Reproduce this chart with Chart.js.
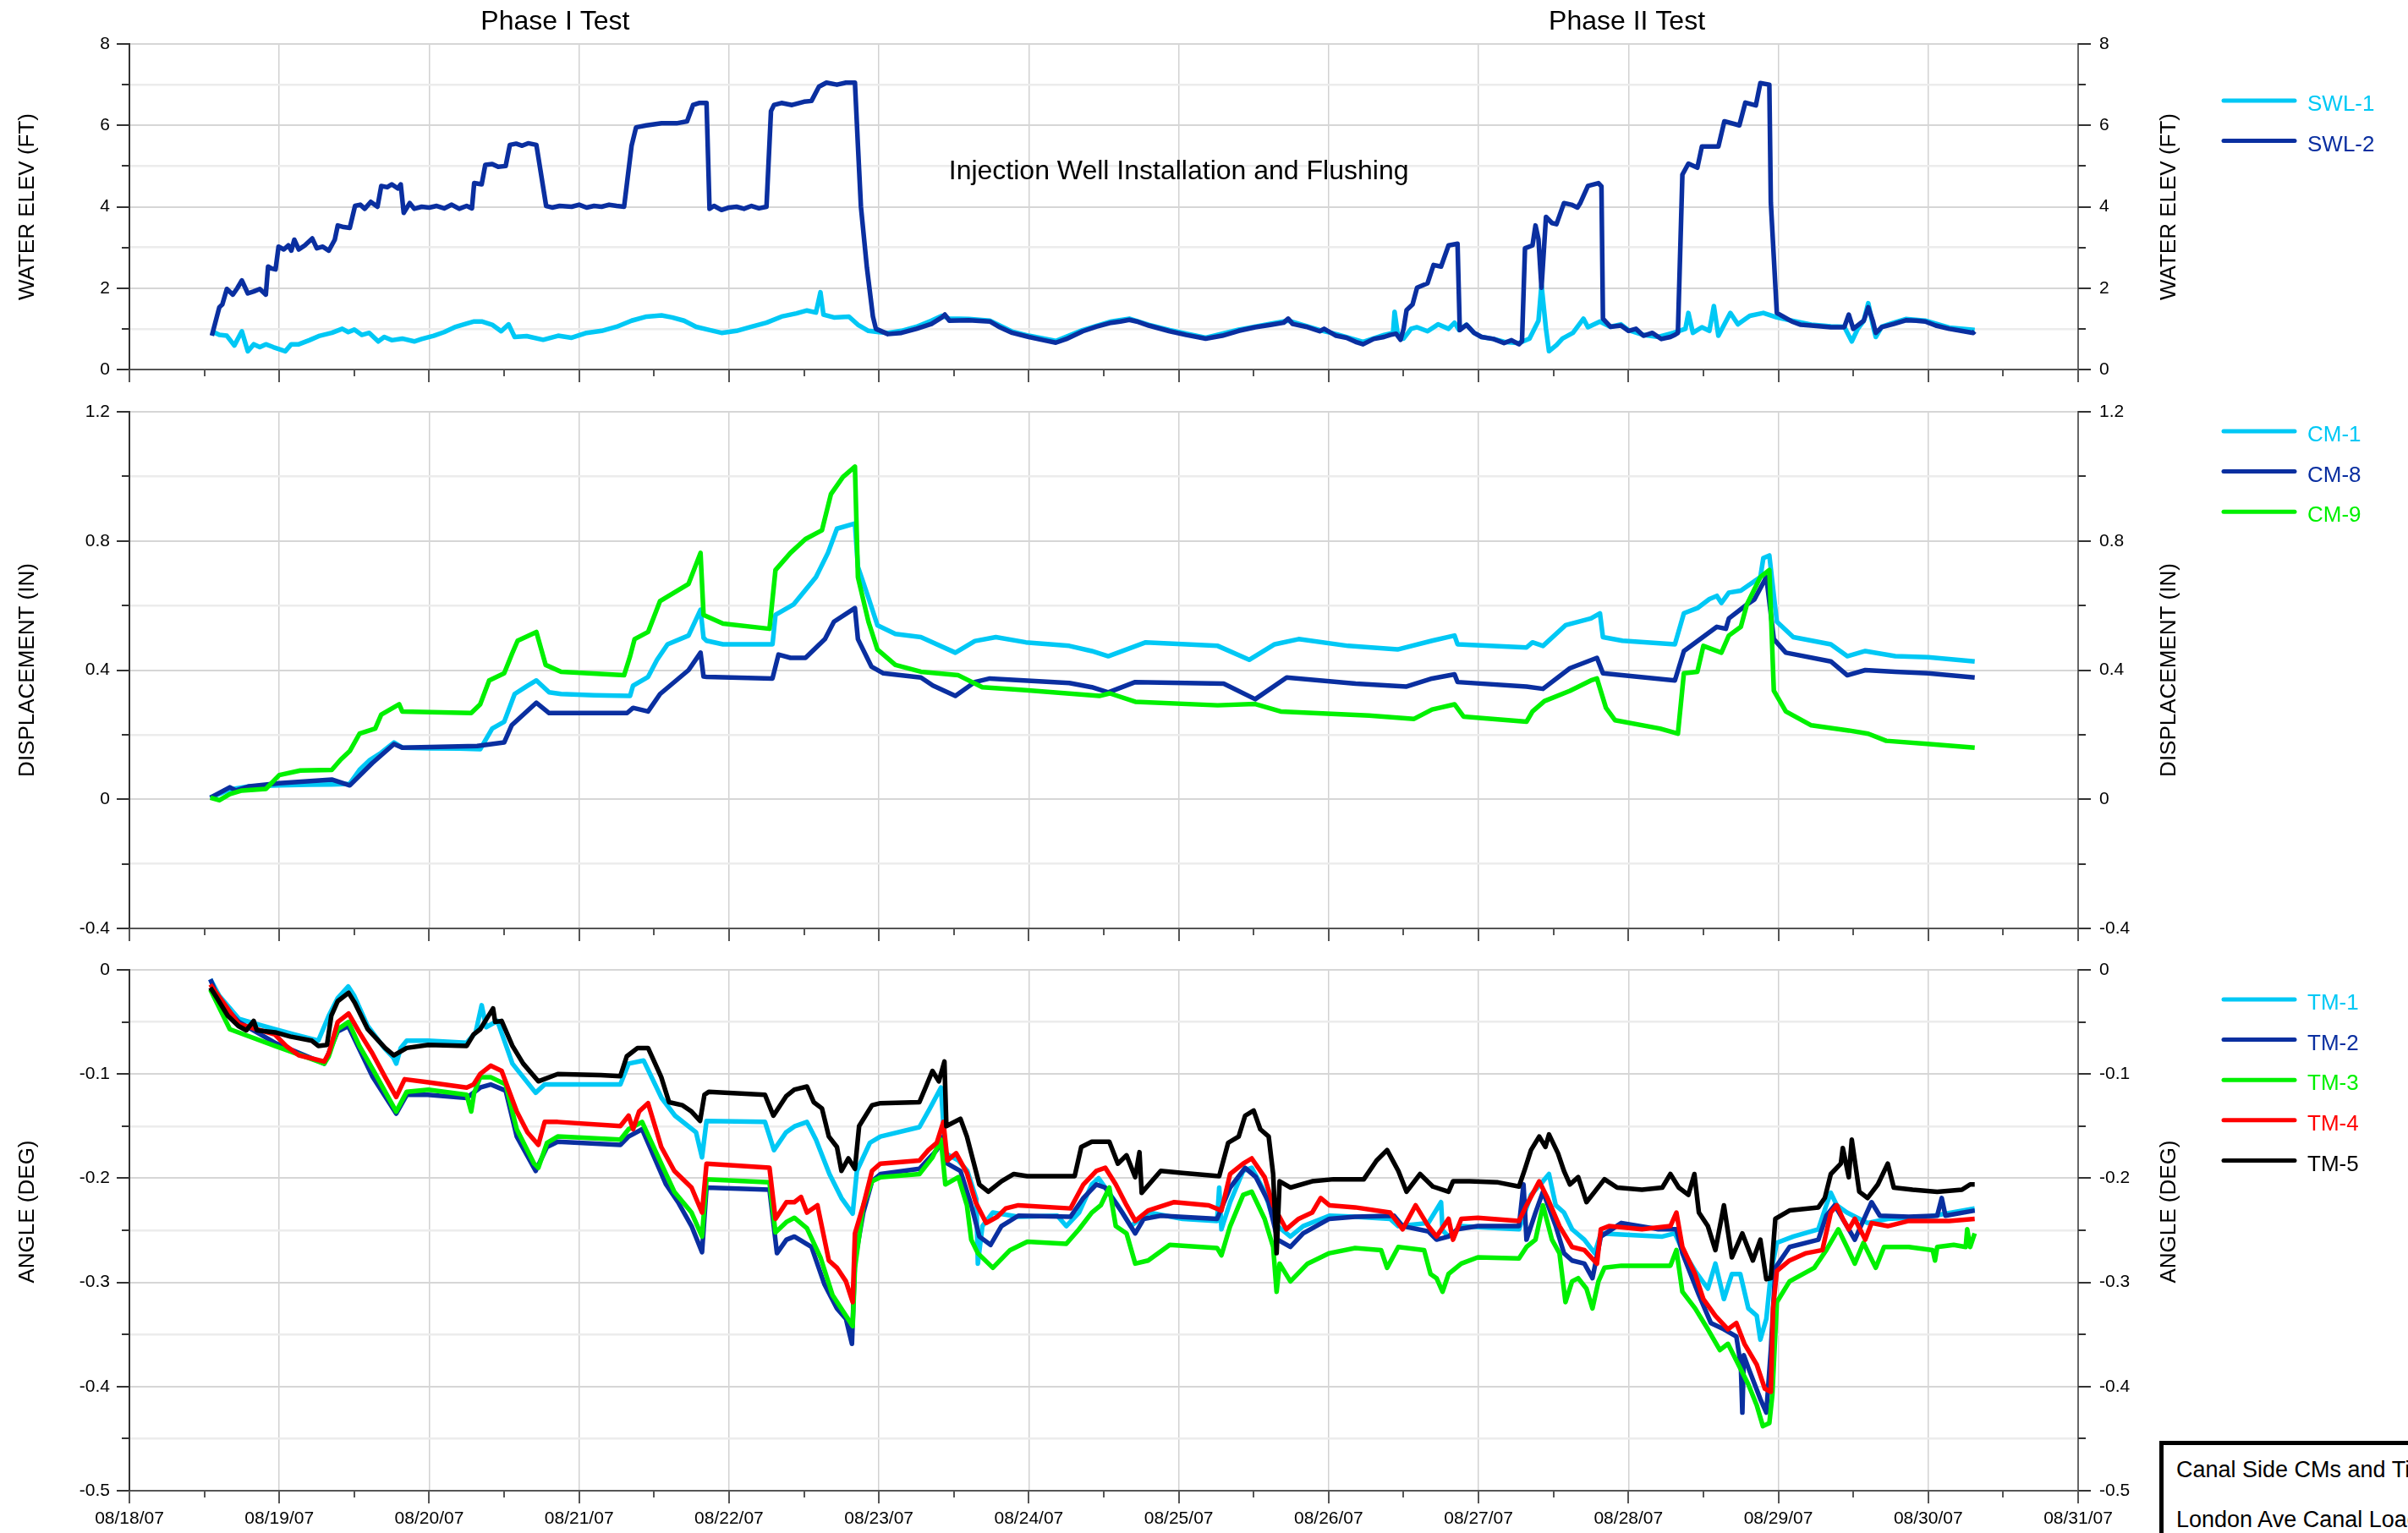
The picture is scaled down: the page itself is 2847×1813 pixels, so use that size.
<!DOCTYPE html>
<html>
<head>
<meta charset="utf-8">
<title>London Ave Canal Load Test</title>
<script src="https://cdn.jsdelivr.net/npm/chart.js@4.4.1/dist/chart.umd.min.js"></script>
<style>
  body { margin: 0; width: 2847px; height: 1813px; overflow: hidden; background: #fff;
         font-family: "Liberation Sans", Arial, sans-serif; position: relative; }
  canvas { position: absolute; left: 0; }
  #noteBox { position: absolute; left: 2553px; top: 1704px; width: 600px; height: 300px;
             border: 5px solid #000; box-sizing: border-box; padding-left: 15px;
             font-size: 27px; line-height: 59px; white-space: nowrap; background: #fff; }
</style>
</head>
<body>
<canvas id="waterChart" width="2847" height="462" style="top:0"></canvas>
<canvas id="dispChart" width="2847" height="660" style="top:462px"></canvas>
<canvas id="angleChart" width="2847" height="691" style="top:1122px"></canvas>
<div id="noteBox"><div>Canal Side CMs and Tiltmeters</div><div>London Ave Canal Load Test</div></div>
<script>
// time axis: days counted from 08/18/07
const dateLabels = ['08/18/07', '08/19/07', '08/20/07', '08/21/07', '08/22/07', '08/23/07', '08/24/07',
  '08/25/07', '08/26/07', '08/27/07', '08/28/07', '08/29/07', '08/30/07', '08/31/07'];

// water elevation (ft), [day, value]
const swl1 = [[0.55,0.94],[0.60,0.85],[0.65,0.83],[0.70,0.59],[0.75,0.94],[0.79,0.45],[0.83,0.62],[0.87,0.55],
  [0.91,0.62],[0.96,0.55],[1.04,0.45],[1.08,0.62],[1.13,0.62],[1.20,0.72],[1.27,0.83],[1.35,0.90],[1.42,1.00],
  [1.46,0.92],[1.50,0.98],[1.55,0.85],[1.60,0.90],[1.66,0.69],[1.70,0.80],[1.75,0.72],[1.82,0.76],[1.90,0.69],
  [1.95,0.75],[2.03,0.83],[2.10,0.92],[2.17,1.04],[2.26,1.14],[2.30,1.18],[2.35,1.18],[2.42,1.10],[2.48,0.94],
  [2.53,1.11],[2.57,0.80],[2.65,0.82],[2.76,0.73],[2.86,0.83],[2.95,0.78],[3.05,0.90],[3.15,0.95],[3.25,1.05],
  [3.35,1.20],[3.45,1.30],[3.55,1.33],[3.62,1.28],[3.70,1.20],[3.78,1.05],[3.86,0.98],[3.95,0.90],[4.05,0.95],
  [4.15,1.05],[4.25,1.15],[4.35,1.30],[4.45,1.38],[4.52,1.45],[4.58,1.40],[4.61,1.90],[4.63,1.35],[4.70,1.28],
  [4.80,1.30],[4.86,1.10],[4.93,0.95],[5.00,0.92],[5.06,0.90],[5.15,0.95],[5.25,1.05],[5.35,1.20],[5.42,1.32],
  [5.47,1.25],[5.60,1.24],[5.74,1.20],[5.89,0.93],[6.00,0.83],[6.18,0.70],[6.36,0.97],[6.55,1.18],[6.67,1.25],
  [6.80,1.10],[6.94,0.97],[7.18,0.78],[7.40,0.98],[7.62,1.13],[7.73,1.20],[7.94,0.97],[8.05,0.87],[8.23,0.68],
  [8.37,0.85],[8.43,0.90],[8.44,1.42],[8.46,0.90],[8.50,0.76],[8.55,1.00],[8.59,1.04],[8.66,0.94],[8.73,1.11],
  [8.80,1.00],[8.84,1.15],[8.87,0.97],[8.92,1.10],[8.97,0.90],[9.02,0.80],[9.10,0.75],[9.17,0.68],[9.27,0.65],
  [9.34,0.76],[9.40,1.20],[9.42,2.08],[9.45,1.00],[9.47,0.45],[9.52,0.60],[9.56,0.76],[9.63,0.90],[9.70,1.25],
  [9.73,1.04],[9.81,1.18],[9.88,1.05],[9.95,1.11],[10.00,0.97],[10.10,0.85],[10.20,0.80],[10.30,0.90],
  [10.38,1.00],[10.40,1.39],[10.43,0.90],[10.49,1.04],[10.54,0.95],[10.57,1.56],[10.60,0.83],[10.68,1.39],
  [10.73,1.11],[10.81,1.32],[10.90,1.39],[10.99,1.28],[11.09,1.20],[11.22,1.10],[11.35,1.06],[11.44,1.05],
  [11.49,0.69],[11.53,1.00],[11.57,1.20],[11.60,1.63],[11.63,1.10],[11.65,0.80],[11.69,1.05],[11.77,1.15],
  [11.85,1.24],[11.98,1.20],[12.14,1.03],[12.31,0.97]];
const swl2 = [[0.55,0.83],[0.60,1.53],[0.62,1.60],[0.65,1.98],[0.69,1.84],[0.72,2.00],[0.75,2.19],[0.79,1.87],
  [0.83,1.92],[0.87,1.98],[0.91,1.84],[0.925,2.53],[0.95,2.48],[0.975,2.46],[0.995,3.02],[1.03,2.95],[1.06,3.05],
  [1.08,2.92],[1.10,3.19],[1.13,2.95],[1.17,3.05],[1.22,3.22],[1.25,2.98],[1.29,3.02],[1.33,2.92],[1.37,3.19],
  [1.39,3.54],[1.43,3.50],[1.47,3.48],[1.505,4.02],[1.54,4.05],[1.57,3.95],[1.61,4.12],[1.655,4.00],[1.68,4.51],
  [1.72,4.48],[1.75,4.55],[1.79,4.45],[1.81,4.55],[1.83,3.85],[1.87,4.09],[1.90,3.95],[1.95,4.00],[2.00,3.98],
  [2.05,4.02],[2.10,3.96],[2.15,4.05],[2.20,3.95],[2.25,4.02],[2.285,3.96],[2.30,4.58],[2.35,4.55],[2.374,5.03],
  [2.42,5.05],[2.46,4.98],[2.51,5.00],[2.538,5.52],[2.58,5.55],[2.62,5.50],[2.66,5.56],[2.715,5.52],[2.78,4.02],
  [2.82,3.98],[2.87,4.02],[2.95,4.00],[3.00,4.05],[3.05,3.98],[3.10,4.02],[3.15,4.00],[3.20,4.05],[3.25,4.02],
  [3.30,4.00],[3.32,4.60],[3.35,5.50],[3.38,5.95],[3.45,6.00],[3.55,6.05],[3.65,6.05],[3.72,6.10],[3.76,6.50],
  [3.80,6.55],[3.85,6.55],[3.87,3.95],[3.90,4.02],[3.95,3.92],[4.00,3.98],[4.05,4.00],[4.10,3.95],[4.15,4.02],
  [4.20,3.96],[4.25,4.00],[4.28,6.35],[4.30,6.50],[4.35,6.55],[4.42,6.50],[4.50,6.58],[4.55,6.60],[4.60,6.95],
  [4.65,7.05],[4.72,7.00],[4.78,7.05],[4.84,7.05],[4.86,5.50],[4.88,4.00],[4.92,2.50],[4.96,1.30],[4.98,1.00],
  [5.06,0.87],[5.15,0.90],[5.25,1.00],[5.35,1.12],[5.42,1.28],[5.44,1.35],[5.47,1.20],[5.60,1.21],[5.74,1.18],
  [5.80,1.05],[5.89,0.90],[6.00,0.80],[6.10,0.72],[6.18,0.66],[6.25,0.75],[6.36,0.94],[6.45,1.05],[6.55,1.15],
  [6.61,1.18],[6.67,1.22],[6.72,1.18],[6.80,1.08],[6.94,0.94],[7.05,0.85],[7.18,0.76],[7.29,0.83],[7.40,0.95],
  [7.51,1.04],[7.62,1.10],[7.70,1.15],[7.73,1.25],[7.76,1.12],[7.85,1.05],[7.94,0.94],[7.97,1.00],[8.05,0.83],
  [8.12,0.78],[8.18,0.68],[8.23,0.62],[8.30,0.75],[8.37,0.80],[8.41,0.85],[8.45,0.88],[8.48,0.73],[8.50,1.00],
  [8.52,1.46],[8.56,1.60],[8.59,2.01],[8.66,2.12],[8.70,2.57],[8.75,2.53],[8.80,3.05],[8.86,3.09],[8.875,0.97],
  [8.92,1.10],[8.97,0.90],[9.02,0.80],[9.10,0.75],[9.17,0.65],[9.22,0.72],[9.27,0.62],[9.29,0.70],[9.31,2.98],
  [9.36,3.05],[9.38,3.54],[9.40,3.20],[9.42,2.01],[9.45,3.75],[9.49,3.60],[9.52,3.57],[9.57,4.09],[9.62,4.05],
  [9.66,3.98],[9.68,4.10],[9.73,4.51],[9.80,4.58],[9.82,4.50],[9.83,1.25],[9.88,1.05],[9.95,1.08],[10.00,0.95],
  [10.05,1.00],[10.10,0.83],[10.16,0.90],[10.22,0.75],[10.28,0.80],[10.31,0.85],[10.33,0.90],[10.36,4.79],
  [10.40,5.06],[10.46,4.96],[10.49,5.48],[10.60,5.48],[10.64,6.10],[10.74,6.00],[10.78,6.56],[10.85,6.49],
  [10.88,7.04],[10.94,7.00],[10.95,4.10],[10.99,1.39],[11.09,1.18],[11.15,1.10],[11.22,1.08],[11.35,1.04],
  [11.44,1.04],[11.47,1.35],[11.50,1.00],[11.57,1.20],[11.60,1.53],[11.63,1.20],[11.65,0.90],[11.69,1.04],
  [11.77,1.12],[11.85,1.21],[11.92,1.20],[11.98,1.18],[12.05,1.08],[12.14,1.00],[12.22,0.95],[12.30,0.90],
  [12.31,0.94]];

// displacement (in), [day, value]
const cm1 = [[0.54,0.005],[0.67,0.03],[0.80,0.04],[1.00,0.043],[1.20,0.045],[1.35,0.046],[1.47,0.048],
  [1.535,0.091],[1.60,0.12],[1.68,0.144],[1.765,0.176],[1.82,0.16],[2.00,0.158],[2.20,0.157],[2.34,0.155],
  [2.42,0.219],[2.50,0.24],[2.57,0.326],[2.65,0.35],[2.715,0.368],[2.80,0.331],[2.88,0.326],[3.10,0.322],
  [3.34,0.32],[3.36,0.352],[3.46,0.379],[3.52,0.432],[3.59,0.48],[3.73,0.507],[3.81,0.587],[3.83,0.50],
  [3.85,0.491],[3.96,0.48],[4.29,0.48],[4.31,0.571],[4.43,0.603],[4.58,0.688],[4.66,0.763],[4.72,0.838],
  [4.84,0.854],[4.86,0.72],[4.93,0.624],[4.99,0.539],[5.11,0.512],[5.28,0.502],[5.51,0.454],[5.64,0.49],
  [5.78,0.502],[5.98,0.486],[6.27,0.475],[6.42,0.459],[6.53,0.443],[6.78,0.486],[7.26,0.475],[7.47,0.432],
  [7.64,0.48],[7.80,0.496],[8.13,0.475],[8.46,0.464],[8.69,0.491],[8.84,0.507],[8.86,0.48],[9.32,0.47],
  [9.36,0.486],[9.43,0.475],[9.58,0.539],[9.75,0.56],[9.81,0.576],[9.83,0.502],[9.96,0.491],[10.31,0.48],
  [10.37,0.576],[10.46,0.592],[10.54,0.62],[10.59,0.63],[10.62,0.608],[10.67,0.64],[10.75,0.646],[10.88,0.688],
  [10.90,0.747],[10.94,0.755],[10.99,0.55],[11.10,0.502],[11.35,0.48],[11.46,0.443],[11.58,0.459],[11.78,0.443],
  [12.00,0.44],[12.31,0.427]];
const cm8 = [[0.54,0.005],[0.67,0.037],[0.71,0.027],[0.80,0.04],[1.00,0.05],[1.35,0.061],[1.47,0.043],
  [1.62,0.112],[1.765,0.171],[1.82,0.16],[2.32,0.165],[2.50,0.176],[2.55,0.229],[2.715,0.299],[2.80,0.267],
  [3.32,0.267],[3.36,0.283],[3.46,0.272],[3.54,0.326],[3.73,0.40],[3.81,0.454],[3.83,0.38],[3.85,0.379],
  [4.29,0.374],[4.33,0.448],[4.41,0.438],[4.51,0.438],[4.64,0.496],[4.70,0.55],[4.84,0.592],[4.86,0.496],
  [4.95,0.411],[5.03,0.39],[5.28,0.377],[5.36,0.352],[5.51,0.32],[5.64,0.363],[5.74,0.374],[6.27,0.36],
  [6.42,0.347],[6.53,0.331],[6.71,0.363],[7.30,0.358],[7.51,0.31],[7.72,0.377],[8.18,0.358],[8.52,0.349],
  [8.69,0.374],[8.84,0.387],[8.86,0.363],[9.32,0.349],[9.43,0.342],[9.61,0.406],[9.79,0.438],[9.83,0.39],
  [10.31,0.368],[10.37,0.459],[10.59,0.534],[10.65,0.528],[10.67,0.56],[10.79,0.603],[10.84,0.619],
  [10.92,0.688],[10.97,0.496],[11.05,0.454],[11.35,0.427],[11.46,0.384],[11.58,0.40],[11.78,0.395],[12.00,0.39],
  [12.31,0.377]];
const cm9 = [[0.54,0.005],[0.60,-0.003],[0.67,0.016],[0.75,0.027],[0.91,0.032],[1.00,0.075],[1.14,0.089],
  [1.35,0.091],[1.41,0.123],[1.47,0.149],[1.535,0.203],[1.64,0.219],[1.68,0.262],[1.80,0.294],[1.82,0.272],
  [2.28,0.267],[2.34,0.294],[2.40,0.368],[2.50,0.39],[2.55,0.448],[2.59,0.491],[2.715,0.518],[2.777,0.416],
  [2.88,0.395],[3.30,0.384],[3.34,0.443],[3.37,0.496],[3.46,0.518],[3.54,0.614],[3.73,0.667],[3.81,0.763],
  [3.83,0.571],[3.96,0.544],[4.27,0.528],[4.31,0.71],[4.41,0.763],[4.51,0.806],[4.62,0.833],[4.68,0.945],
  [4.76,0.998],[4.84,1.03],[4.86,0.688],[4.93,0.55],[4.99,0.464],[5.11,0.416],[5.28,0.395],[5.53,0.384],
  [5.69,0.347],[5.98,0.338],[6.47,0.32],[6.54,0.328],[6.71,0.302],[7.26,0.291],[7.51,0.295],[7.68,0.272],
  [8.27,0.259],[8.57,0.249],[8.69,0.278],[8.84,0.294],[8.90,0.256],[9.32,0.24],[9.36,0.272],[9.44,0.304],
  [9.61,0.336],[9.75,0.368],[9.79,0.374],[9.85,0.283],[9.91,0.245],[10.21,0.219],[10.33,0.203],[10.37,0.39],
  [10.46,0.395],[10.50,0.475],[10.62,0.454],[10.67,0.507],[10.75,0.534],[10.79,0.603],[10.88,0.688],
  [10.94,0.71],[10.97,0.336],[11.05,0.272],[11.22,0.229],[11.47,0.213],[11.60,0.203],[11.72,0.181],
  [12.01,0.171],[12.31,0.16]];

// tilt angle (deg), [day, value]
const tm1 = [[0.54,-0.009],[0.60,-0.025],[0.73,-0.047],[0.85,-0.052],[0.97,-0.057],[1.10,-0.062],[1.26,-0.068],
  [1.33,-0.044],[1.39,-0.027],[1.46,-0.016],[1.50,-0.025],[1.59,-0.054],[1.70,-0.075],[1.76,-0.084],[1.78,-0.09],
  [1.81,-0.075],[1.85,-0.068],[1.99,-0.068],[2.25,-0.07],[2.31,-0.06],[2.35,-0.034],[2.38,-0.055],[2.455,-0.049],
  [2.555,-0.09],[2.71,-0.118],[2.77,-0.11],[3.275,-0.11],[3.33,-0.09],[3.43,-0.087],[3.55,-0.123],[3.64,-0.14],
  [3.78,-0.156],[3.82,-0.18],[3.85,-0.145],[4.24,-0.146],[4.30,-0.173],[4.38,-0.156],[4.44,-0.15],[4.52,-0.146],
  [4.58,-0.163],[4.67,-0.196],[4.75,-0.219],[4.825,-0.234],[4.853,-0.193],[4.94,-0.166],[5.01,-0.16],
  [5.27,-0.151],[5.34,-0.133],[5.414,-0.113],[5.443,-0.176],[5.53,-0.183],[5.59,-0.193],[5.65,-0.22],
  [5.66,-0.282],[5.69,-0.246],[5.76,-0.233],[5.93,-0.237],[6.19,-0.236],[6.25,-0.246],[6.335,-0.233],
  [6.42,-0.206],[6.465,-0.20],[6.51,-0.209],[6.594,-0.226],[6.68,-0.246],[6.80,-0.233],[7.026,-0.239],
  [7.256,-0.241],[7.27,-0.209],[7.285,-0.249],[7.343,-0.223],[7.43,-0.193],[7.487,-0.19],[7.573,-0.213],
  [7.63,-0.239],[7.66,-0.246],[7.745,-0.256],[7.83,-0.246],[8.005,-0.236],[8.177,-0.237],[8.41,-0.239],
  [8.465,-0.246],[8.665,-0.243],[8.75,-0.223],[8.76,-0.25],[8.80,-0.256],[8.885,-0.246],[9.13,-0.248],
  [9.27,-0.249],[9.35,-0.216],[9.43,-0.203],[9.47,-0.196],[9.515,-0.226],[9.57,-0.233],[9.624,-0.249],
  [9.706,-0.259],[9.775,-0.272],[9.816,-0.253],[10.226,-0.256],[10.31,-0.253],[10.36,-0.269],[10.445,-0.289],
  [10.53,-0.306],[10.58,-0.282],[10.637,-0.316],[10.69,-0.292],[10.746,-0.292],[10.80,-0.325],[10.856,-0.332],
  [10.88,-0.355],[10.92,-0.335],[10.95,-0.292],[10.99,-0.262],[11.10,-0.256],[11.267,-0.249],[11.32,-0.226],
  [11.35,-0.214],[11.39,-0.226],[11.458,-0.233],[11.595,-0.243],[11.73,-0.239],[12.00,-0.237],[12.31,-0.229]];
const tm2 = [[0.54,-0.009],[0.60,-0.03],[0.73,-0.05],[0.97,-0.07],[1.30,-0.09],[1.39,-0.059],[1.46,-0.054],
  [1.62,-0.102],[1.78,-0.138],[1.85,-0.12],[1.99,-0.12],[2.25,-0.123],[2.34,-0.113],[2.41,-0.11],[2.51,-0.116],
  [2.584,-0.16],[2.71,-0.193],[2.786,-0.17],[2.857,-0.165],[3.275,-0.168],[3.33,-0.16],[3.42,-0.153],
  [3.58,-0.206],[3.66,-0.223],[3.75,-0.246],[3.82,-0.271],[3.85,-0.209],[4.27,-0.211],[4.32,-0.272],
  [4.383,-0.259],[4.436,-0.256],[4.55,-0.266],[4.637,-0.302],[4.72,-0.325],[4.78,-0.335],[4.82,-0.359],
  [4.84,-0.279],[4.896,-0.233],[4.954,-0.203],[5.01,-0.196],[5.27,-0.191],[5.386,-0.173],[5.43,-0.16],
  [5.457,-0.186],[5.544,-0.193],[5.616,-0.226],[5.67,-0.256],[5.745,-0.264],[5.817,-0.246],[5.93,-0.236],
  [6.278,-0.237],[6.364,-0.219],[6.45,-0.206],[6.51,-0.209],[6.623,-0.233],[6.71,-0.253],[6.767,-0.239],
  [6.88,-0.236],[7.256,-0.239],[7.343,-0.209],[7.443,-0.19],[7.515,-0.199],[7.60,-0.223],[7.66,-0.259],
  [7.745,-0.266],[7.83,-0.253],[8.005,-0.239],[8.177,-0.237],[8.436,-0.236],[8.494,-0.246],[8.665,-0.251],
  [8.72,-0.259],[8.80,-0.256],[8.86,-0.249],[8.995,-0.246],[9.27,-0.246],[9.30,-0.206],[9.32,-0.259],
  [9.38,-0.233],[9.43,-0.213],[9.515,-0.246],[9.57,-0.272],[9.624,-0.279],[9.706,-0.282],[9.76,-0.296],
  [9.816,-0.256],[9.953,-0.243],[10.20,-0.249],[10.32,-0.249],[10.36,-0.272],[10.47,-0.312],[10.55,-0.339],
  [10.637,-0.345],[10.72,-0.352],[10.75,-0.38],[10.76,-0.425],[10.77,-0.37],[10.80,-0.382],[10.88,-0.412],
  [10.92,-0.425],[10.95,-0.365],[10.98,-0.286],[11.075,-0.266],[11.267,-0.259],[11.32,-0.236],[11.376,-0.226],
  [11.458,-0.246],[11.51,-0.259],[11.622,-0.223],[11.677,-0.236],[11.87,-0.237],[12.06,-0.236],[12.09,-0.219],
  [12.115,-0.236],[12.31,-0.231]];
const tm3 = [[0.54,-0.019],[0.67,-0.057],[0.97,-0.073],[1.30,-0.09],[1.33,-0.083],[1.39,-0.057],[1.462,-0.05],
  [1.534,-0.073],[1.63,-0.097],[1.78,-0.136],[1.85,-0.117],[1.994,-0.115],[2.25,-0.12],[2.28,-0.136],
  [2.30,-0.118],[2.34,-0.103],[2.41,-0.103],[2.51,-0.11],[2.584,-0.153],[2.70,-0.186],[2.728,-0.19],
  [2.786,-0.166],[2.857,-0.16],[3.275,-0.163],[3.33,-0.153],[3.42,-0.146],[3.548,-0.186],[3.635,-0.213],
  [3.75,-0.233],[3.82,-0.256],[3.85,-0.201],[4.27,-0.204],[4.31,-0.252],[4.383,-0.242],[4.436,-0.238],
  [4.52,-0.248],[4.61,-0.276],[4.69,-0.312],[4.78,-0.332],[4.825,-0.342],[4.84,-0.286],[4.896,-0.226],
  [4.954,-0.203],[5.01,-0.199],[5.27,-0.196],[5.357,-0.18],[5.414,-0.163],[5.443,-0.206],[5.53,-0.199],
  [5.587,-0.226],[5.616,-0.259],[5.66,-0.272],[5.76,-0.286],[5.875,-0.269],[5.99,-0.261],[6.25,-0.263],
  [6.335,-0.249],[6.42,-0.233],[6.48,-0.226],[6.537,-0.209],[6.58,-0.246],[6.652,-0.253],[6.71,-0.282],
  [6.796,-0.279],[6.94,-0.264],[7.256,-0.267],[7.285,-0.274],[7.343,-0.246],[7.43,-0.216],[7.487,-0.213],
  [7.573,-0.239],[7.63,-0.266],[7.653,-0.309],[7.673,-0.282],[7.745,-0.299],[7.86,-0.282],[8.005,-0.272],
  [8.177,-0.267],[8.35,-0.269],[8.39,-0.286],[8.465,-0.266],[8.637,-0.269],[8.68,-0.292],[8.72,-0.296],
  [8.76,-0.309],[8.80,-0.292],[8.885,-0.282],[8.995,-0.276],[9.27,-0.277],[9.32,-0.266],[9.38,-0.259],
  [9.43,-0.226],[9.49,-0.259],[9.54,-0.272],[9.58,-0.319],[9.624,-0.299],[9.665,-0.296],[9.72,-0.306],
  [9.76,-0.325],[9.80,-0.299],[9.84,-0.286],[9.953,-0.284],[10.28,-0.284],[10.32,-0.269],[10.36,-0.309],
  [10.445,-0.325],[10.53,-0.345],[10.61,-0.365],[10.664,-0.359],[10.72,-0.375],[10.80,-0.398],[10.856,-0.418],
  [10.897,-0.438],[10.94,-0.435],[10.96,-0.408],[10.99,-0.319],[11.075,-0.299],[11.24,-0.286],[11.32,-0.269],
  [11.40,-0.249],[11.458,-0.266],[11.51,-0.282],[11.568,-0.262],[11.65,-0.286],[11.705,-0.266],[11.87,-0.266],
  [12.03,-0.269],[12.045,-0.279],[12.06,-0.266],[12.17,-0.264],[12.25,-0.266],[12.26,-0.249],[12.28,-0.266],
  [12.31,-0.253]];
const tm4 = [[0.54,-0.014],[0.73,-0.052],[0.97,-0.062],[1.045,-0.073],[1.13,-0.082],[1.30,-0.088],[1.33,-0.08],
  [1.39,-0.05],[1.462,-0.042],[1.534,-0.06],[1.62,-0.08],[1.706,-0.103],[1.78,-0.122],[1.836,-0.105],
  [1.994,-0.108],[2.25,-0.113],[2.296,-0.11],[2.34,-0.10],[2.41,-0.092],[2.483,-0.097],[2.584,-0.136],
  [2.656,-0.156],[2.728,-0.168],[2.77,-0.146],[2.857,-0.146],[3.275,-0.15],[3.33,-0.14],[3.36,-0.153],
  [3.40,-0.136],[3.46,-0.128],[3.548,-0.17],[3.635,-0.193],[3.75,-0.209],[3.82,-0.233],[3.85,-0.186],
  [4.27,-0.19],[4.31,-0.239],[4.383,-0.223],[4.436,-0.223],[4.48,-0.218],[4.52,-0.233],[4.59,-0.226],
  [4.666,-0.279],[4.72,-0.286],[4.78,-0.299],[4.825,-0.319],[4.84,-0.253],[4.896,-0.226],[4.954,-0.193],
  [5.01,-0.186],[5.27,-0.183],[5.33,-0.173],[5.386,-0.166],[5.43,-0.146],[5.457,-0.183],[5.515,-0.176],
  [5.587,-0.195],[5.645,-0.223],[5.716,-0.243],[5.79,-0.237],[5.846,-0.229],[5.93,-0.226],[6.278,-0.229],
  [6.364,-0.206],[6.45,-0.193],[6.51,-0.19],[6.58,-0.206],[6.652,-0.226],[6.71,-0.241],[6.796,-0.231],
  [6.97,-0.223],[7.20,-0.226],[7.285,-0.231],[7.343,-0.196],[7.43,-0.186],[7.487,-0.181],[7.573,-0.199],
  [7.63,-0.226],[7.717,-0.249],[7.80,-0.239],[7.89,-0.233],[7.947,-0.219],[8.005,-0.226],[8.177,-0.228],
  [8.41,-0.233],[8.494,-0.249],[8.58,-0.226],[8.665,-0.246],[8.72,-0.256],[8.80,-0.239],[8.83,-0.259],
  [8.885,-0.239],[8.995,-0.238],[9.27,-0.241],[9.32,-0.226],[9.405,-0.203],[9.46,-0.219],[9.54,-0.246],
  [9.624,-0.266],[9.706,-0.269],[9.79,-0.282],[9.816,-0.249],[9.87,-0.246],[10.09,-0.249],[10.28,-0.246],
  [10.32,-0.233],[10.36,-0.266],[10.445,-0.292],[10.50,-0.316],[10.58,-0.332],[10.664,-0.345],[10.72,-0.339],
  [10.774,-0.359],[10.856,-0.379],[10.91,-0.402],[10.95,-0.405],[10.965,-0.325],[10.99,-0.289],[11.075,-0.279],
  [11.185,-0.272],[11.294,-0.269],[11.35,-0.233],[11.39,-0.226],[11.43,-0.239],[11.47,-0.249],[11.51,-0.239],
  [11.58,-0.259],[11.622,-0.243],[11.73,-0.246],[11.87,-0.241],[12.14,-0.241],[12.31,-0.239]];
const tm5 = [[0.54,-0.017],[0.584,-0.027],[0.656,-0.044],[0.728,-0.054],[0.78,-0.058],[0.829,-0.049],
  [0.85,-0.058],[0.973,-0.06],[1.073,-0.064],[1.217,-0.068],[1.26,-0.073],[1.318,-0.072],[1.347,-0.044],
  [1.39,-0.03],[1.462,-0.022],[1.505,-0.032],[1.59,-0.057],[1.706,-0.075],[1.764,-0.082],[1.85,-0.075],
  [1.994,-0.072],[2.25,-0.073],[2.296,-0.062],[2.34,-0.057],[2.383,-0.047],[2.426,-0.037],[2.44,-0.05],
  [2.483,-0.049],[2.555,-0.073],[2.627,-0.09],[2.728,-0.107],[2.857,-0.10],[3.145,-0.101],[3.275,-0.102],
  [3.318,-0.083],[3.39,-0.075],[3.46,-0.075],[3.548,-0.103],[3.60,-0.127],[3.69,-0.13],[3.75,-0.136],
  [3.807,-0.145],[3.836,-0.12],[3.865,-0.117],[4.24,-0.12],[4.296,-0.14],[4.383,-0.121],[4.436,-0.115],
  [4.52,-0.112],[4.565,-0.127],[4.62,-0.133],[4.666,-0.16],[4.72,-0.17],[4.75,-0.193],[4.796,-0.181],
  [4.84,-0.191],[4.868,-0.15],[4.954,-0.13],[5.01,-0.128],[5.27,-0.127],[5.314,-0.112],[5.357,-0.097],
  [5.40,-0.107],[5.437,-0.088],[5.45,-0.15],[5.544,-0.143],[5.587,-0.16],[5.67,-0.206],[5.73,-0.213],
  [5.817,-0.203],[5.90,-0.196],[5.99,-0.198],[6.306,-0.198],[6.35,-0.17],[6.42,-0.165],[6.537,-0.165],
  [6.594,-0.186],[6.652,-0.178],[6.71,-0.199],[6.738,-0.175],[6.753,-0.214],[6.88,-0.193],[7.026,-0.195],
  [7.27,-0.198],[7.33,-0.166],[7.40,-0.16],[7.443,-0.14],[7.50,-0.135],[7.544,-0.153],[7.60,-0.16],
  [7.63,-0.196],[7.653,-0.272],[7.673,-0.203],[7.745,-0.209],[7.89,-0.203],[8.033,-0.201],[8.235,-0.201],
  [8.32,-0.183],[8.39,-0.173],[8.465,-0.193],[8.52,-0.213],[8.61,-0.196],[8.695,-0.208],[8.80,-0.213],
  [8.83,-0.203],[8.94,-0.203],[9.13,-0.204],[9.27,-0.208],[9.31,-0.191],[9.35,-0.173],[9.405,-0.16],
  [9.446,-0.17],[9.47,-0.158],[9.53,-0.176],[9.57,-0.193],[9.61,-0.206],[9.665,-0.199],[9.72,-0.223],
  [9.775,-0.213],[9.84,-0.201],[9.925,-0.209],[10.09,-0.211],[10.226,-0.209],[10.28,-0.196],[10.336,-0.209],
  [10.40,-0.216],[10.44,-0.196],[10.47,-0.233],[10.53,-0.246],[10.58,-0.269],[10.637,-0.226],[10.69,-0.276],
  [10.76,-0.253],[10.83,-0.279],[10.88,-0.259],[10.92,-0.297],[10.95,-0.296],[10.98,-0.239],[11.075,-0.231],
  [11.267,-0.228],[11.31,-0.219],[11.35,-0.196],[11.417,-0.186],[11.43,-0.171],[11.47,-0.199],[11.49,-0.163],
  [11.54,-0.213],[11.595,-0.219],[11.664,-0.206],[11.73,-0.186],[11.77,-0.209],[11.896,-0.211],[12.06,-0.213],
  [12.225,-0.211],[12.28,-0.206],[12.31,-0.206]];

// text notes in the water panel, placed at [day, elevation]
const waterNotes = [
  ['Phase I Test', 2.84, 8.53],
  ['Phase II Test', 9.99, 8.53],
  ['Injection Well Installation and Flushing', 7.0, 4.86]
];

const CYAN = '#00C8F5', NAVY = '#0A2FA0', GREEN = '#00F000', RED = '#FF0000', BLACK = '#000000';
const FONT = '"Liberation Sans", Arial, sans-serif';

Chart.defaults.font.family = FONT;
Chart.defaults.font.size = 21;
Chart.defaults.color = '#000';

function isMultiple(v, step) {
  const r = v / step;
  return Math.abs(r - Math.round(r)) < 1e-6;
}

// tick marks, axis titles, legend and notes drawn around each panel
const panelDecor = {
  id: 'panelDecor',
  afterDraw(chart, args, o) {
    const { ctx, chartArea: area, scales } = chart;
    ctx.save();
    ctx.lineWidth = 2;
    ctx.strokeStyle = '#333';
    for (const s of [scales.y, scales.y2]) {
      const onLeft = s.position === 'left';
      const edge = onLeft ? area.left : area.right;
      s.ticks.forEach(t => {
        const len = isMultiple(t.value, o.major) ? 15 : 9;
        const py = Math.round(s.getPixelForValue(t.value));
        ctx.beginPath();
        ctx.moveTo(edge, py);
        ctx.lineTo(onLeft ? edge - len : edge + len, py);
        ctx.stroke();
      });
    }
    const x = scales.x;
    ctx.strokeStyle = '#555';
    x.ticks.forEach(t => {
      [[t.value, 15], [t.value + 0.5, 8]].forEach(([v, len]) => {
        if (v > x.max) return;
        const px = Math.round(x.getPixelForValue(v));
        ctx.beginPath();
        ctx.moveTo(px, area.bottom);
        ctx.lineTo(px, area.bottom + len);
        ctx.stroke();
      });
    });

    // axis titles read bottom-to-top on both sides
    ctx.fillStyle = '#000';
    ctx.font = '26px ' + FONT;
    ctx.textAlign = 'center';
    ctx.textBaseline = 'middle';
    const midY = (area.top + area.bottom) / 2 + (o.titleShift || 0);
    [area.left - 120, area.right + 108].forEach(tx => {
      ctx.save();
      ctx.translate(tx, midY);
      ctx.rotate(-Math.PI / 2);
      ctx.fillText(o.title, 0, 0);
      ctx.restore();
    });

    // legend to the right of the panel
    ctx.lineCap = 'round';
    ctx.textAlign = 'left';
    chart.data.datasets.forEach((ds, i) => {
      const ly = o.legendTop + i * 47.6;
      ctx.strokeStyle = ds.borderColor;
      ctx.lineWidth = 5;
      ctx.beginPath();
      ctx.moveTo(area.right + 172, ly);
      ctx.lineTo(area.right + 256, ly);
      ctx.stroke();
      ctx.fillStyle = ds.borderColor;
      ctx.fillText(ds.label, area.right + 271, ly + 5);
    });

    // free text notes positioned on the data scales
    ctx.fillStyle = '#000';
    ctx.textAlign = 'center';
    ctx.font = '32px ' + FONT;
    (o.notes || []).forEach(([text, day, val]) => {
      ctx.fillText(text, x.getPixelForValue(day), scales.y.getPixelForValue(val));
    });
    ctx.restore();
  }
};

function makePanel(canvasId, p) {
  const valueTicks = {
    stepSize: p.step,
    padding: 0,
    callback: v => isMultiple(v, p.major) ? String(Math.round(v * 10) / 10) : ''
  };
  const fitY = w => s => { s.width = w; s.paddingTop = 0; s.paddingBottom = 0; };

  return new Chart(document.getElementById(canvasId), {
    type: 'line',
    data: {
      datasets: p.series.map((sr, i) => ({
        label: sr.label,
        data: sr.data.map(([x, y]) => ({ x, y })),
        borderColor: sr.color,
        backgroundColor: sr.color,
        borderWidth: 5.5,
        borderJoinStyle: 'round',
        pointRadius: 0,
        tension: 0,
        order: p.series.length - 1 - i
      }))
    },
    options: {
      responsive: false,
      animation: false,
      events: [],
      layout: { padding: { top: p.padTop, right: 260, left: 0, bottom: 0 } },
      scales: {
        x: {
          type: 'linear', min: 0, max: 13,
          ticks: {
            display: p.dates, stepSize: 1, padding: 21, maxRotation: 0, autoSkip: false,
            callback: v => dateLabels[Math.round(v)]
          },
          grid: { color: '#d2d2d2', lineWidth: 1.5, drawTicks: false },
          border: { color: '#555', width: 2 },
          afterFit: s => { s.height = p.xAxisH; s.paddingLeft = 0; s.paddingRight = 0; }
        },
        y: {
          type: 'linear', position: 'left', min: p.min, max: p.max,
          ticks: Object.assign({}, valueTicks, { padding: 23 }),
          grid: {
            drawTicks: false,
            color: c => isMultiple(c.tick.value, p.major) ? '#d6d6d6' : '#ececec',
            lineWidth: c => isMultiple(c.tick.value, p.major) ? 2 : 2.5
          },
          border: { color: '#333', width: 2 },
          afterFit: fitY(153)
        },
        y2: {
          type: 'linear', position: 'right', min: p.min, max: p.max,
          ticks: Object.assign({}, valueTicks, { padding: 25 }),
          grid: { drawOnChartArea: false, drawTicks: false },
          border: { color: '#666', width: 2 },
          afterFit: fitY(130)
        }
      },
      plugins: {
        legend: { display: false },
        tooltip: { enabled: false },
        panelDecor: {
          major: p.major, title: p.title, legendTop: p.legendTop,
          notes: p.notes, titleShift: p.titleShift
        }
      }
    },
    plugins: [panelDecor]
  });
}

makePanel('waterChart', {
  series: [
    { label: 'SWL-1', data: swl1, color: CYAN },
    { label: 'SWL-2', data: swl2, color: NAVY }
  ],
  min: 0, max: 8, step: 1, major: 2,
  title: 'WATER ELEV (FT)',
  padTop: 52, xAxisH: 25, dates: false, legendTop: 119,
  notes: waterNotes
});

makePanel('dispChart', {
  series: [
    { label: 'CM-1', data: cm1, color: CYAN },
    { label: 'CM-8', data: cm8, color: NAVY },
    { label: 'CM-9', data: cm9, color: GREEN }
  ],
  min: -0.4, max: 1.2, step: 0.2, major: 0.4,
  title: 'DISPLACEMENT (IN)',
  padTop: 25, xAxisH: 24, dates: false, legendTop: 48
});

makePanel('angleChart', {
  series: [
    { label: 'TM-1', data: tm1, color: CYAN },
    { label: 'TM-2', data: tm2, color: NAVY },
    { label: 'TM-3', data: tm3, color: GREEN },
    { label: 'TM-4', data: tm4, color: RED },
    { label: 'TM-5', data: tm5, color: BLACK }
  ],
  min: -0.5, max: 0, step: 0.05, major: 0.1,
  title: 'ANGLE (DEG)',
  padTop: 25, xAxisH: 50, dates: true, legendTop: 60, titleShift: -22
});
</script>
</body>
</html>
